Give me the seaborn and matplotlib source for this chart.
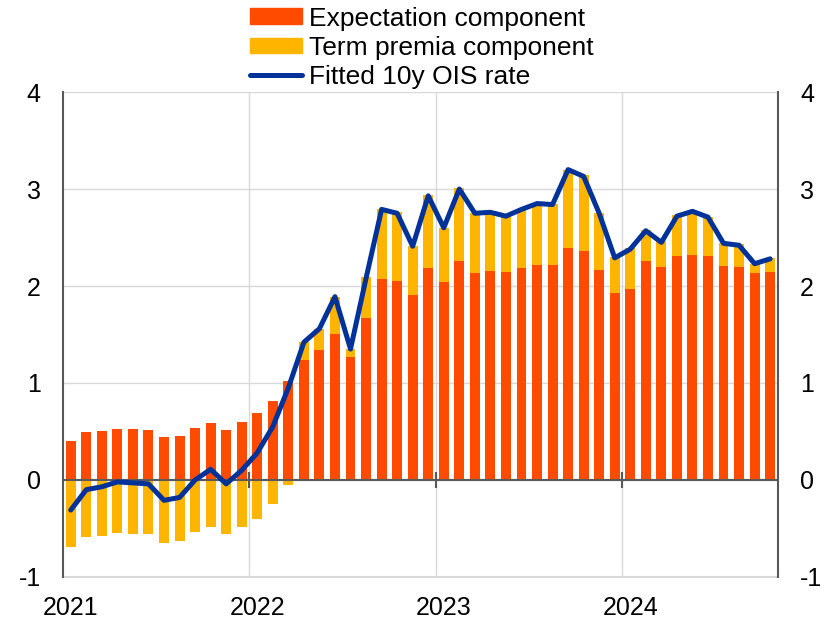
import numpy as np
import pandas as pd
import matplotlib
matplotlib.use("Agg")
import matplotlib.pyplot as plt
import seaborn as sns
from matplotlib.patches import Patch
from matplotlib.lines import Line2D

# monthly data, Jan 2021 - Oct 2024
expectation = [0.40, 0.49, 0.51, 0.53, 0.53, 0.52, 0.44, 0.45, 0.54, 0.59, 0.52, 0.60,
               0.69, 0.81, 1.02, 1.24, 1.34, 1.51, 1.27, 1.67, 2.07, 2.05, 1.91, 2.19,
               2.04, 2.26, 2.13, 2.15, 2.14, 2.19, 2.22, 2.22, 2.39, 2.36, 2.17, 1.93,
               1.97, 2.26, 2.20, 2.31, 2.32, 2.31, 2.21, 2.20, 2.13, 2.14]
term_premia = [-0.69, -0.59, -0.58, -0.55, -0.56, -0.56, -0.65, -0.63, -0.54, -0.48, -0.56, -0.48,
               -0.40, -0.25, -0.05, 0.18, 0.22, 0.38, 0.08, 0.42, 0.72, 0.71, 0.50, 0.75,
               0.56, 0.75, 0.62, 0.61, 0.57, 0.60, 0.63, 0.63, 0.81, 0.78, 0.58, 0.37,
               0.42, 0.32, 0.26, 0.42, 0.45, 0.40, 0.23, 0.23, 0.10, 0.15]
fitted_ois = [-0.31, -0.10, -0.07, -0.02, -0.03, -0.04, -0.21, -0.18, 0.00, 0.11, -0.04, 0.10,
              0.28, 0.55, 0.95, 1.42, 1.56, 1.89, 1.35, 2.08, 2.79, 2.75, 2.41, 2.93,
              2.60, 3.00, 2.75, 2.76, 2.72, 2.79, 2.85, 2.84, 3.20, 3.13, 2.75, 2.29,
              2.38, 2.57, 2.45, 2.72, 2.77, 2.71, 2.44, 2.42, 2.23, 2.28]
years = ["2021", "2022", "2023", "2024"]

red = "#FF4B00"
yellow = "#FFB400"
blue = "#003299"
grey = "#595959"
light = "#d9d9d9"

df = pd.DataFrame({"month": np.arange(len(expectation)),
                   "exp": expectation, "tp": term_premia, "fitted": fitted_ois})
# positive term premia sit on top of the expectation bar
df["tp_bar"] = np.where(df["tp"] > 0, df["exp"] + df["tp"], df["tp"])

sns.set_style("white")
plt.rcParams["font.family"] = ["Liberation Sans", "DejaVu Sans"]
plt.rcParams["axes.unicode_minus"] = False
plt.rcParams["text.color"] = "black"
plt.rcParams["xtick.color"] = "black"
plt.rcParams["ytick.color"] = "black"

fig = plt.figure(figsize=(8.32, 6.21), dpi=100)
ax = fig.add_axes([0.0757, 0.0709, 0.8593, 0.7809])

sns.barplot(data=df, x="month", y="tp_bar", native_scale=True, color=yellow,
            saturation=1, width=0.64, linewidth=0, ax=ax)
sns.barplot(data=df, x="month", y="exp", native_scale=True, color=red,
            saturation=1, width=0.64, linewidth=0, ax=ax)
sns.lineplot(data=df, x="month", y="fitted", color=blue, lw=3.6, ax=ax, zorder=6)

ax.set_xlim(-0.5, 45.5)
ax.set_ylim(-1, 4)
ax.set_yticks(range(-1, 5))
ax.set_xticks([0, 12, 24, 36])
ax.set_xticklabels(years)
ax.set_xticks([11.5, 23.5, 35.5], minor=True)
ax.set_xlabel("")
ax.set_ylabel("")

ax.grid(which="major", axis="y", color=light, lw=1)
ax.grid(which="minor", axis="x", color=light, lw=1)
ax.axhline(-1, color=light, lw=1.5, clip_on=False, zorder=0)
ax.set_axisbelow(True)
ax.tick_params(axis="both", which="both", length=0, labelsize=18, colors="black")
ax.tick_params(axis="x", pad=14)
ax.tick_params(axis="y", pad=16, labelright=True)

for s in ["top", "bottom"]:
    ax.spines[s].set_visible(False)
for s in ["left", "right"]:
    ax.spines[s].set_color(grey)
    ax.spines[s].set_linewidth(1.5)

# zero line with year separators
ax.axhline(0, color=grey, lw=1.5, zorder=4)
sec = ax.secondary_xaxis(0.2)
sec.set_xticks([11.5, 23.5, 35.5])
sec.tick_params(direction="inout", length=11, width=1.5, color=grey, labelbottom=False)
sec.spines["bottom"].set_visible(False)
sec.set_zorder(4)

handles = [Patch(color=red, label="Expectation component"),
           Patch(color=yellow, label="Term premia component"),
           Line2D([0], [0], color=blue, lw=3.6, label="Fitted 10y OIS rate")]
fig.legend(handles=handles, loc="upper left", bbox_to_anchor=(0.281, 1.015),
           frameon=False, fontsize=19, borderpad=0.1, handlelength=1.97,
           handleheight=0.55, handletextpad=0.27, labelspacing=0.2)

fig.savefig("out.png", dpi=100)
